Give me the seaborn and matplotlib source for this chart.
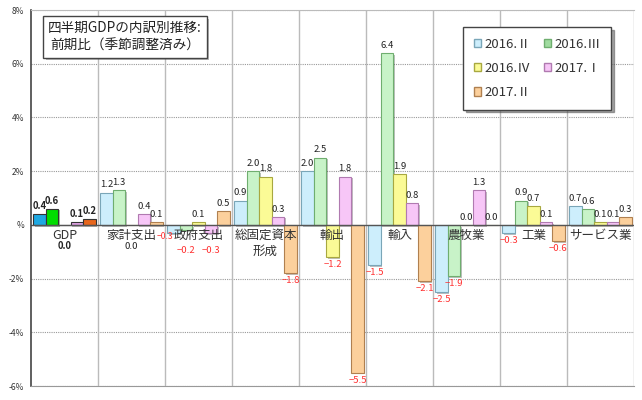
import numpy as np
import pandas as pd
import seaborn as sns
import matplotlib
matplotlib.use("Agg")
import matplotlib.pyplot as plt
import matplotlib.patheffects as pe
from matplotlib.patches import Patch

categories = ["GDP", "家計支出", "政府支出", "総固定資本\n形成", "輸出", "輸入", "農牧業", "工業", "サービス業"]
quarters = ["2016.Ⅱ", "2016.Ⅲ", "2016.Ⅳ", "2017.Ⅰ", "2017.Ⅱ"]
q2016_2 = [0.4, 1.2, -0.3, 0.9, 2.0, -1.5, -2.5, -0.3, 0.7]
q2016_3 = [0.6, 1.3, -0.2, 2.0, 2.5, 6.4, -1.9, 0.9, 0.6]
q2016_4 = [0.0, 0.0, 0.1, 1.8, -1.2, 1.9, 0.0, 0.7, 0.1]
q2017_1 = [0.1, 0.4, -0.3, 0.3, 1.8, 0.8, 1.3, 0.1, 0.1]
q2017_2 = [0.2, 0.1, 0.5, -1.8, -5.5, -2.1, 0.0, -0.6, 0.3]
yticks = [-6, -4, -2, 0, 2, 4, 6, 8]
ytick_labels = ["-6%", "-4%", "-2%", "%", "2%", "4%", "6%", "8%"]
title_text = "四半期GDPの内訳別推移:\n前期比（季節調整済み）"

series = [q2016_2, q2016_3, q2016_4, q2017_1, q2017_2]
rows = []
for q, vals in zip(quarters, series):
    for c, v in zip(categories, vals):
        rows.append({"cat": c, "q": q, "val": v})
df = pd.DataFrame(rows)

sns.set_style("white")
plt.rcParams["font.family"] = ["Noto Sans CJK JP", "DejaVu Sans"]

pale = ["#cdeefc", "#c8f3c8", "#fbfb96", "#f7c6f7", "#fcd09c"]
edges = ["#7aa6b8", "#6fae6f", "#a8a840", "#b07ab0", "#b08050"]
gdp_cols = ["#1ea8e2", "#00dd00", "#f0f000", "#e2a2e6", "#e8661c"]

fig = plt.figure(figsize=(6.42, 4.0), dpi=100)
ax = fig.add_axes([31/642, 14/400, (634-31)/642, (386-10)/400])

sns.barplot(data=df, x="cat", y="val", hue="q", order=categories, hue_order=quarters,
            palette=pale, width=0.93, ax=ax, legend=False, saturation=1)

for i, cont in enumerate(ax.containers):
    for j, bar in enumerate(cont):
        bar.set_edgecolor(edges[i])
        bar.set_linewidth(0.8)
        if j == 0:
            bar.set_facecolor(gdp_cols[i])
            bar.set_edgecolor("#333333")
        bar.set_path_effects([pe.SimplePatchShadow(offset=(1.2, -1.2), alpha=0.35), pe.Normal()])

# value labels (a few small labels sit around the category names, as in the source)
label_moves = {(0, 2): (-0.128, -0.45, 6.2), (1, 2): (0.0, -0.95, 6.8), (3, 2): (0.0, -0.95, 6.8)}
for i, cont in enumerate(ax.containers):
    vals = series[i]
    for j, bar in enumerate(cont):
        v = vals[j]
        xc = bar.get_x() + bar.get_width() / 2
        txt = f"{v:.1f}".replace("-", "−")
        kw = dict(ha="center")
        if j == 0:
            kw["fontweight"] = "bold"
        if (i, j) in label_moves:
            dx, yy, fs = label_moves[(i, j)]
            ax.text(xc + dx, yy, txt, va="center", color="#ff3030", fontsize=fs, **kw)
        elif v == 0 and j in (0, 1):
            ax.text(j, -0.8, txt, va="center", color="#222222", fontsize=6.8, **kw)
        elif v < 0:
            ax.text(xc, v - 0.12, txt, va="top", color="#ff3030", fontsize=6.8, **kw)
        else:
            ax.text(xc, v + 0.12, txt, va="bottom", color="#222222", fontsize=6.8, **kw)

# category labels
for j, c in enumerate(categories):
    ax.text(j, -0.15, c, ha="center", va="top", fontsize=9, color="#333333", linespacing=1.3)

ax.set_xlim(-0.5, len(categories) - 0.5)
ax.set_ylim(-6, 8)
ax.set_yticks(yticks)
ax.set_yticklabels(ytick_labels, fontsize=6, color="#333333")
ax.set_xticks([])
ax.set_xlabel("")
ax.set_ylabel("")
ax.tick_params(axis="y", length=3, width=0.8, colors="#333333", pad=2)
for y in yticks:
    if y != 0:
        ax.axhline(y, color="#999999", lw=0.8, ls=(0, (1, 1)), zorder=0)
for k in range(len(categories)):
    ax.axvline(k + 0.5, color="#bbbbbb", lw=1.0, zorder=0)
ax.axhline(0, color="#555555", lw=1.0, zorder=1)
ax.spines["left"].set_color("#444444")
ax.spines["left"].set_linewidth(1.2)
ax.spines["bottom"].set_color("#999999")
ax.spines["top"].set_color("#bbbbbb")
ax.spines["right"].set_visible(False)

# title box
t = fig.text(125/642, 1 - 37/400, title_text, ha="center", va="center", fontsize=9.8,
             color="#222222", linespacing=1.35,
             bbox=dict(boxstyle="square,pad=0.35", fc="white", ec="#444444", lw=1.0))
t.get_bbox_patch().set_path_effects([pe.SimplePatchShadow(offset=(2, -2), alpha=0.4), pe.Normal()])

# legend
handles = [Patch(facecolor=pale[i] if i != 1 else "#a0dca0", edgecolor=edges[i]) for i in range(5)]
order = [0, 2, 4, 1, 3]
leg = fig.legend([handles[i] for i in order], [quarters[i] for i in order], ncol=2,
                 loc="upper left", bbox_to_anchor=(463/642, 1 - 27/400), borderaxespad=0,
                 fontsize=9.5, handlelength=0.6, handleheight=0.6, handletextpad=0.2,
                 labelspacing=0.85, columnspacing=1.0, frameon=True, fancybox=False,
                 shadow=True, borderpad=0.8, labelcolor="#333333")
leg.get_frame().set_edgecolor("#444444")
leg.get_frame().set_linewidth(1.0)

fig.savefig("out.png", dpi=100)
